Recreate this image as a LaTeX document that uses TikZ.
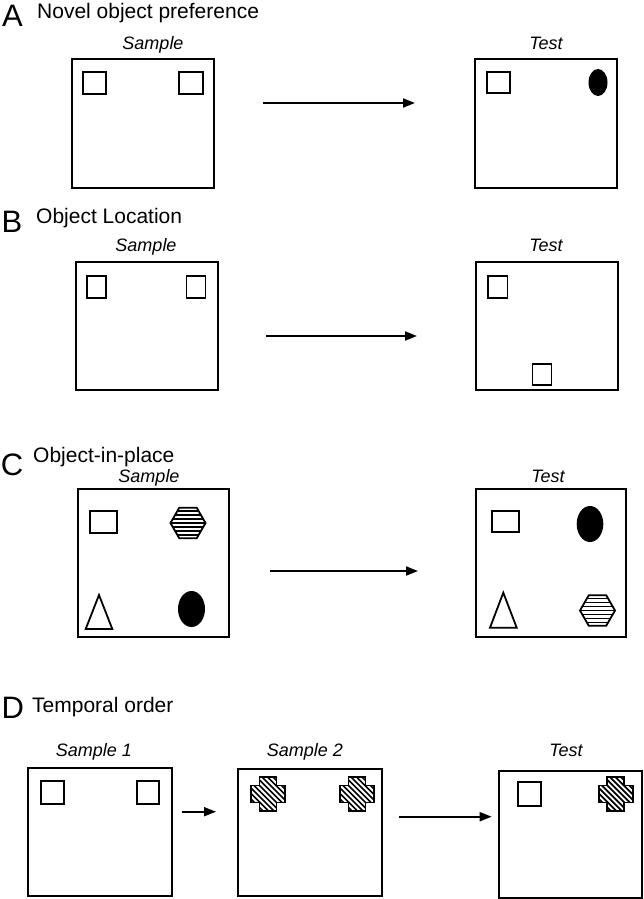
\documentclass[tikz,border=0pt]{standalone}
\usepackage{fontspec}
\setmainfont{Liberation Sans}
\usetikzlibrary{arrows.meta}

\tikzset{
  arena/.style={draw, line width=2pt, inner sep=0pt, minimum width=142pt, minimum height=128pt},
  obj/.style={draw, line width=1.8pt, line join=miter},
  stripe/.style={line width=1.3pt},
  go/.style={-{Triangle[length=12pt,width=9pt]}, line width=1.8pt},
  panel/.style={font=\fontsize{31}{31}\selectfont, anchor=base, inner sep=0pt},
  heading/.style={font=\fontsize{21}{21}\selectfont, anchor=base west, inner sep=0pt},
  phase/.style={font=\fontsize{18}{18}\selectfont\itshape, anchor=base, inner sep=0pt},
}
\newcommand{\hexobj}[2]{%
	\begin{scope}[shift={(#1,#2)}]
		\begin{scope}
			\clip (-17.5,0) -- (-8.75,-15.2) -- (8.75,-15.2) -- (17.5,0) -- (8.75,15.2) -- (-8.75,15.2) -- cycle;
			\foreach \k in {-12,-8,...,12}
				\draw[stripe] (-18,\k) -- (18,\k);
		\end{scope}
		\draw[obj] (-17.5,0) -- (-8.75,-15.2) -- (8.75,-15.2) -- (17.5,0) -- (8.75,15.2) -- (-8.75,15.2) -- cycle;
	\end{scope}}
\newcommand{\crossobj}[2]{%
	\begin{scope}[shift={(#1,#2)}]
		\begin{scope}
			\clip (-8.5,-17) -- (8.5,-17) -- (8.5,-8.5) -- (17,-8.5) -- (17,8.5) -- (8.5,8.5) -- (8.5,17) -- (-8.5,17) -- (-8.5,8.5) -- (-17,8.5) -- (-17,-8.5) -- (-8.5,-8.5) -- cycle;
			\foreach \k in {-38.5,-33,...,38.5}
				\draw[stripe, line width=1.7pt] (\k-18,-18) -- (\k+18,18);
		\end{scope}
		\draw[obj] (-8.5,-17) -- (8.5,-17) -- (8.5,-8.5) -- (17,-8.5) -- (17,8.5) -- (8.5,8.5) -- (8.5,17) -- (-8.5,17) -- (-8.5,8.5) -- (-17,8.5) -- (-17,-8.5) -- (-8.5,-8.5) -- cycle;
	\end{scope}}

\begin{document}
\begin{tikzpicture}[x=1pt, y=-1pt]
	\useasboundingbox (0,0) rectangle (643,899);

	\node[panel] (labA) at (12.5,27) {A};
	\node[heading] (titA) at (37,19) {Novel object preference};
	\node[phase] (smpA) at (153,49) {Sample};
	\node[phase] (tstA) at (546,49) {Test};
	\node[arena] (boxA1) at (143,123.5) {};
	\node[arena] (boxA2) at (545.5,123.5) {};
	\draw[obj] (83,72) rectangle (106,94);
	\draw[obj] (179,72) rectangle (203,94);
	\draw[obj] (486.7,72) rectangle (510,93.3);
	\fill (598,82.5) ellipse (9.5 and 13.5);
	\coordinate (fromA) at (263,103);
	\coordinate (toA) at (415,103);
	\draw[go] (fromA) -- (toA);

	\node[panel] (labB) at (12,232) {B};
	\node[heading] (titB) at (36,223) {Object Location};
	\node[phase] (smpB) at (146,251) {Sample};
	\node[phase] (tstB) at (546,251) {Test};
	\node[arena] (boxB1) at (147,326) {};
	\node[arena] (boxB2) at (546.5,326) {};
	\draw[obj] (87,276) rectangle (106,298);
	\draw[obj] (186.5,276) rectangle (205.5,298);
	\draw[obj] (488,276) rectangle (507.5,298);
	\draw[obj] (532.5,364) rectangle (551.5,385);
	\coordinate (fromB) at (266,336);
	\coordinate (toB) at (417,336);
	\draw[go] (fromB) -- (toB);

	\node[panel] (labC) at (12,475) {C};
	\node[heading] (titC) at (33,462) {Object-in-place};
	\node[phase] (smpC) at (149,482) {Sample};
	\node[phase] (tstC) at (548,482) {Test};
	\node[arena, minimum width=151pt, minimum height=148pt] (boxC1) at (153,562.5) {};
	\node[arena, minimum width=150pt, minimum height=148pt] (boxC2) at (551,562.5) {};
	\draw[obj] (90,511) rectangle (117,533);
	\hexobj{188}{523}
	\draw[obj] (99,595) -- (112.3,629) -- (85.7,629) -- cycle;
	\fill (191.5,609) ellipse (13.5 and 18);
	\draw[obj] (491.7,510.7) rectangle (519,531.7);
	\fill (590,524) ellipse (13.3 and 18);
	\draw[obj] (503.3,592.7) -- (516.7,627.7) -- (490,627.7) -- cycle;
	\hexobj{597.5}{610.5}
	\coordinate (fromC) at (270,571);
	\coordinate (toC) at (418,571);
	\draw[go] (fromC) -- (toC);

	\node[panel] (labD) at (12.7,718) {D};
	\node[heading] (titD) at (32,712) {Temporal order};
	\node[phase] (smpD1) at (94,756) {Sample 1};
	\node[phase] (smpD2) at (305,756) {Sample 2};
	\node[phase] (tstD) at (566,756) {Test};
	\node[arena, minimum width=143.4pt, minimum height=127.7pt] (boxD1) at (100,832.2) {};
	\node[arena, minimum width=144pt, minimum height=127pt] (boxD2) at (310.3,832.5) {};
	\node[arena, minimum width=142.4pt, minimum height=127.3pt] (boxD3) at (570.5,834.3) {};
	\draw[obj] (40.7,781) rectangle (64.3,804);
	\draw[obj] (136.7,781) rectangle (159.3,804);
	\crossobj{268}{794}
	\crossobj{357}{794}
	\draw[obj] (517.7,781.7) rectangle (540.7,805.7);
	\crossobj{615.8}{794}
	\coordinate (fromD1) at (181.7,811.7);
	\coordinate (toD1) at (216,811.7);
	\draw[go] (fromD1) -- (toD1);
	\coordinate (fromD2) at (399,816.7);
	\coordinate (toD2) at (491.7,816.7);
	\draw[go] (fromD2) -- (toD2);
\end{tikzpicture}
\end{document}
